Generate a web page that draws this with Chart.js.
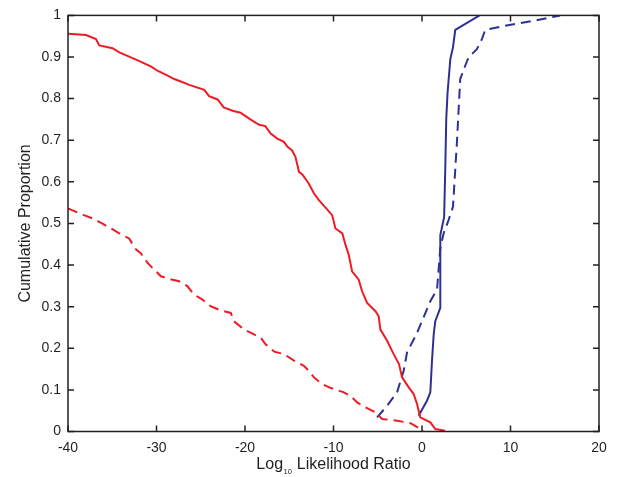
<!DOCTYPE html>
<html>
<head>
<meta charset="utf-8">
<script src="https://cdn.jsdelivr.net/npm/chart.js@4/dist/chart.umd.min.js"></script>
<style>
  html, body { margin: 0; padding: 0; background: #fff; }
  #wrap { width: 618px; height: 477px; position: relative; }
</style>
</head>
<body>
<div id="wrap"><canvas id="cdfChart"></canvas></div>
<script>
// значения
const xTicks = [-40, -30, -20, -10, 0, 10, 20];
const yTicks = [0, 0.1, 0.2, 0.3, 0.4, 0.5, 0.6, 0.7, 0.8, 0.9, 1];

const redSolidX = [-40, -37.97, -36.84, -36.47, -34.96, -34.2, -32.9, -31.8, -30.6, -29.9, -28.9, -28.0, -27.1, -26.3, -24.6, -24.06, -23.1, -22.4, -21.4, -20.5, -19.4, -18.4, -17.7, -17.1, -16.35, -15.6, -15.2, -14.7, -14.3, -13.9, -13.5, -12.8, -12.2, -11.65, -11.1, -10.15, -9.78, -9.0, -8.65, -8.28, -7.9, -7.15, -6.77, -6.2, -5.26, -4.89, -4.7, -3.94, -3.2, -2.6, -2.25, -1.5, -0.94, -0.56, -0.19, 0.94, 1.5, 2.6];
const redSolidY = [0.956, 0.953, 0.943, 0.928, 0.921, 0.911, 0.899, 0.889, 0.877, 0.867, 0.857, 0.847, 0.840, 0.833, 0.821, 0.806, 0.798, 0.779, 0.771, 0.766, 0.750, 0.737, 0.734, 0.716, 0.704, 0.696, 0.684, 0.676, 0.660, 0.624, 0.617, 0.596, 0.572, 0.556, 0.543, 0.520, 0.488, 0.476, 0.449, 0.425, 0.385, 0.365, 0.337, 0.309, 0.289, 0.277, 0.245, 0.218, 0.186, 0.162, 0.130, 0.106, 0.090, 0.066, 0.034, 0.022, 0.006, 0.002];

const redDashX = [-40, -38.2, -37.2, -35.9, -35.3, -34.2, -33.1, -32.3, -31.8, -31.0, -30.45, -29.5, -28.6, -27.45, -26.5, -25.75, -24.8, -23.9, -22.75, -21.6, -21.25, -20.1, -19.2, -18.2, -17.7, -16.7, -15.6, -14.5, -13.35, -12.8, -12.2, -11.3, -10.35, -8.84, -8.1, -7.33, -6.4, -5.26, -4.5, -2.8, -1.3, -0.19, 0.2];
const redDashY = [0.536, 0.520, 0.512, 0.497, 0.490, 0.476, 0.464, 0.437, 0.429, 0.405, 0.393, 0.373, 0.367, 0.361, 0.349, 0.329, 0.317, 0.301, 0.291, 0.285, 0.265, 0.245, 0.236, 0.225, 0.210, 0.192, 0.186, 0.171, 0.158, 0.146, 0.130, 0.114, 0.105, 0.094, 0.086, 0.070, 0.058, 0.046, 0.030, 0.026, 0.020, 0.006, 0.002];

const blueSolidX = [-0.38, 0.56, 0.94, 1.13, 1.32, 1.5, 2.07, 2.07, 2.5, 2.63, 2.74, 2.89, 3.2, 3.5, 3.76, 6.5];
const blueSolidY = [0.038, 0.074, 0.094, 0.170, 0.233, 0.265, 0.297, 0.472, 0.515, 0.632, 0.751, 0.815, 0.895, 0.923, 0.965, 1.0];

const blueDashX = [-5.07, -3.94, -2.82, -2.07, -1.69, -0.56, 0.94, 1.7, 2.07, 2.44, 3.0, 3.5, 3.95, 4.32, 4.88, 5.26, 6.2, 6.77, 7.14, 9.4, 12.6, 15.6];
const blueDashY = [0.034, 0.062, 0.094, 0.146, 0.190, 0.237, 0.313, 0.341, 0.441, 0.476, 0.508, 0.540, 0.696, 0.847, 0.879, 0.899, 0.919, 0.943, 0.965, 0.975, 0.987, 1.0];

const RED = '#ed1c24';
const BLUE = '#2e3192';
const INK = '#231f20';
const FONT = '"Liberation Sans", Arial, sans-serif';

function pts(xs, ys) {
    return xs.map((x, i) => ({ x: x, y: ys[i] }));
}

// рамка с тиками внутрь и подпись оси X с индексом
const boxPlugin = {
    id: 'matlabBox',
    afterDraw(chart) {
        const ctx = chart.ctx;
        const a = chart.chartArea;
        const xs = chart.scales.x;
        const ys = chart.scales.y;
        const len = 6;
        ctx.save();
        ctx.strokeStyle = INK;
        ctx.lineWidth = 1.5;
        ctx.strokeRect(a.left, a.top, a.right - a.left, a.bottom - a.top);
        ctx.beginPath();
        xTicks.forEach(v => {
            const px = xs.getPixelForValue(v);
            ctx.moveTo(px, a.bottom); ctx.lineTo(px, a.bottom - len);
            ctx.moveTo(px, a.top); ctx.lineTo(px, a.top + len);
        });
        yTicks.forEach(v => {
            const py = ys.getPixelForValue(v);
            ctx.moveTo(a.left, py); ctx.lineTo(a.left + len, py);
            ctx.moveTo(a.right, py); ctx.lineTo(a.right - len, py);
        });
        ctx.stroke();

        // Log10 Likelihood Ratio
        const big = '16px ' + FONT;
        const small = '7.5px ' + FONT;
        ctx.fillStyle = INK;
        ctx.textBaseline = 'alphabetic';
        ctx.textAlign = 'left';
        ctx.font = big;
        const w1 = ctx.measureText('Log').width;
        const w3 = ctx.measureText(' Likelihood Ratio').width;
        ctx.font = small;
        const w2 = ctx.measureText('10').width + 1;
        const total = w1 + w2 + w3;
        let x0 = (a.left + a.right) / 2 - total / 2;
        const base = 469;
        ctx.font = big;
        ctx.fillText('Log', x0, base);
        ctx.font = small;
        ctx.fillText('10', x0 + w1 + 0.5, base + 5);
        ctx.font = big;
        ctx.fillText(' Likelihood Ratio', x0 + w1 + w2, base);
        ctx.restore();
    }
};

const ctx = document.getElementById('cdfChart').getContext('2d');

const cdfChart = new Chart(ctx, {
    type: 'scatter',
    data: {
        datasets: [
            {
                label: 'red solid',
                data: pts(redSolidX, redSolidY),
                borderColor: RED,
                borderWidth: 2,
                showLine: true,
                pointRadius: 0
            },
            {
                label: 'red dashed',
                data: pts(redDashX, redDashY),
                borderColor: RED,
                borderWidth: 2,
                borderDash: [10, 6],
                showLine: true,
                pointRadius: 0
            },
            {
                label: 'blue solid',
                data: pts(blueSolidX, blueSolidY),
                borderColor: BLUE,
                borderWidth: 2,
                showLine: true,
                pointRadius: 0
            },
            {
                label: 'blue dashed',
                data: pts(blueDashX, blueDashY),
                borderColor: BLUE,
                borderWidth: 2,
                borderDash: [10, 6],
                showLine: true,
                pointRadius: 0
            }
        ]
    },
    options: {
        responsive: true,
        maintainAspectRatio: false,
        animation: false,
        layout: { padding: { left: 0, right: 19, top: 13, bottom: 0 } },
        plugins: {
            legend: { display: false },
            tooltip: { enabled: false }
        },
        scales: {
            x: {
                type: 'linear',
                min: -40,
                max: 20,
                afterFit: s => { s.height = 45.5; },
                afterBuildTicks: s => { s.ticks = xTicks.map(v => ({ value: v })); },
                grid: { display: false, drawTicks: false },
                border: { display: false },
                ticks: {
                    padding: 8,
                    color: INK,
                    font: { family: FONT, size: 14 },
                    callback: v => String(v)
                }
            },
            y: {
                type: 'linear',
                min: 0,
                max: 1,
                afterFit: s => { s.width = 68; },
                afterBuildTicks: s => { s.ticks = yTicks.map(v => ({ value: v })); },
                grid: { display: false, drawTicks: false },
                border: { display: false },
                title: {
                    display: true,
                    text: 'Cumulative Proportion',
                    color: INK,
                    font: { family: FONT, size: 16 },
                    padding: { top: 16, bottom: 0 }
                },
                ticks: {
                    padding: 7,
                    color: INK,
                    font: { family: FONT, size: 14 },
                    callback: v => String(Number(v.toFixed(1)))
                }
            }
        }
    },
    plugins: [boxPlugin]
});
</script>
</body>
</html>
